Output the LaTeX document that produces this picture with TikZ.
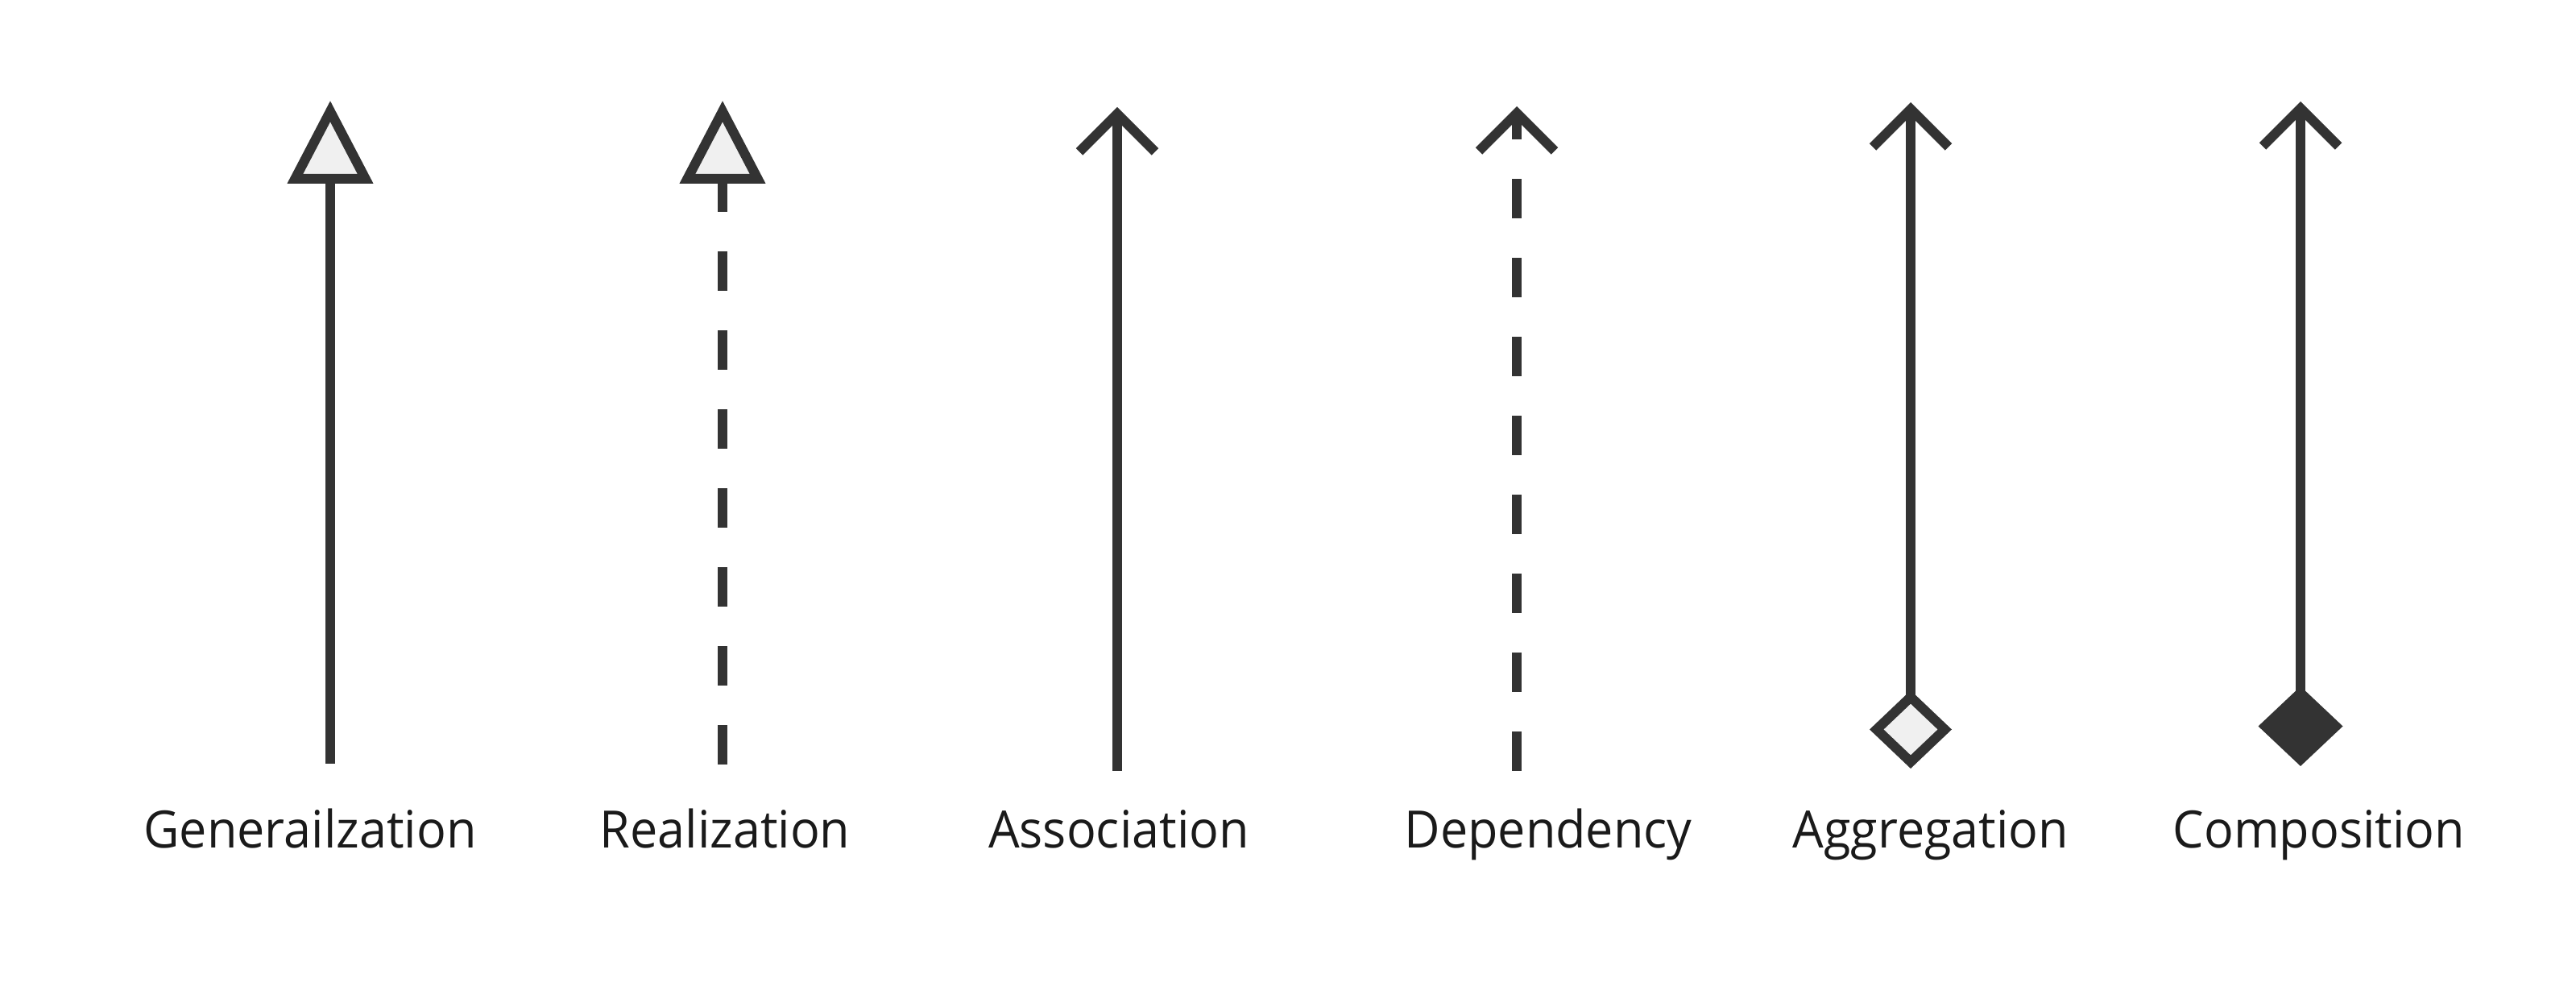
\documentclass[tikz,border=0pt]{standalone}
\usepackage{fontspec}
\setmainfont[FakeStretch=0.955]{Open Sans}
\usepackage{xcolor}
\usetikzlibrary{arrows.meta}
\definecolor{umlgray}{HTML}{333333}
\definecolor{umlfill}{HTML}{F0F0F0}
\definecolor{umltext}{HTML}{1A1A1A}
\tikzset{
  umlline/.style={draw=umlgray, line width=0.12cm},
  umldash/.style={umlline, dash pattern=on 0.49cm off 0.49cm},
  hollowtri/.style={-{Triangle[open, fill=umlfill, length=1.03cm, width=1.04cm]}},
  openhead/.style={-{Straight Barb[length=0.47cm, width=0.94cm]}},
  umllabel/.style={anchor=base, text=umltext, font=\fontsize{18.2pt}{22pt}\selectfont, inner sep=0pt},
}

\begin{document}
\begin{tikzpicture}
\useasboundingbox (0,0) rectangle (31.98,12.5);
\coordinate (gen-b) at (4.10,3.02);  \coordinate (gen-t) at (4.10,11.25);
\coordinate (real-b) at (8.97,3.01); \coordinate (real-t) at (8.97,11.25);
\coordinate (ass-b) at (13.87,2.93); \coordinate (ass-t) at (13.87,11.17);
\coordinate (dep-b) at (18.83,2.93); \coordinate (dep-t) at (18.83,11.18);
\coordinate (agg-b) at (23.72,2.96); \coordinate (agg-t) at (23.72,11.23);
\coordinate (comp-b) at (28.56,2.99); \coordinate (comp-t) at (28.56,11.24);
\draw [umlline, hollowtri] (gen-b) -- (gen-t);
\draw [umldash, hollowtri] (real-b) -- (real-t);
\draw [umlline, openhead] (ass-b) -- (ass-t);
\draw [umldash, openhead] (dep-b) -- (dep-t);
\draw [umlline, {Diamond[open, fill=umlfill, length=0.97cm, width=1.02cm]}-{Straight Barb[length=0.47cm, width=0.94cm]}] (agg-b) -- (agg-t);
\draw [umlline, {Diamond[length=0.99cm, width=1.05cm]}-{Straight Barb[length=0.47cm, width=0.94cm]}] (comp-b) -- (comp-t);
\node [umllabel] (gen-l) at (3.85,1.97) {Generailzation};
\node [umllabel] (real-l) at (9.00,1.97) {Realization};
\node [umllabel] (ass-l) at (13.89,1.97) {Association};
\node [umllabel] (dep-l) at (19.22,1.97) {Dependency};
\node [umllabel] (agg-l) at (23.97,1.97) {Aggregation};
\node [umllabel] (comp-l) at (28.79,1.97) {Composition};
\end{tikzpicture}
\end{document}
